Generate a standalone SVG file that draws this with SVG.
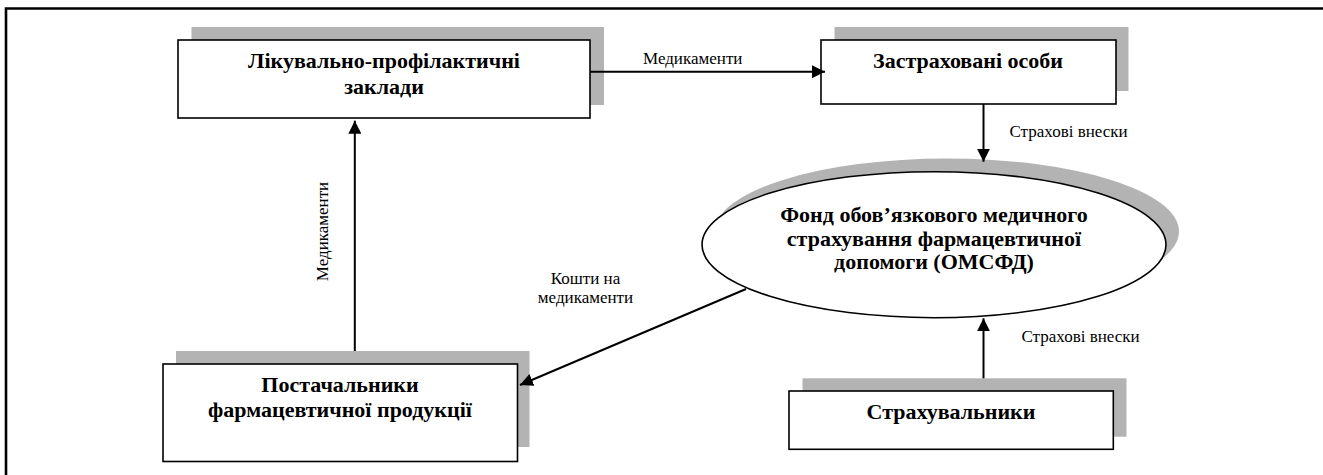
<svg xmlns="http://www.w3.org/2000/svg" width="1323" height="475" viewBox="0 0 1323 475">
  <style>
    .shadow { fill: #b3b3b3; stroke: none; }
    .box { fill: #ffffff; stroke: #000000; stroke-width: 1.6; }
    .title { font-family: "Liberation Serif", "Times New Roman", serif; font-weight: bold; font-size: 22px; fill: #000; text-anchor: middle; }
    .label { font-family: "Liberation Serif", "Times New Roman", serif; font-size: 17px; fill: #000; }
    .conn { stroke: #000; stroke-width: 2; fill: none; marker-end: url(#arrow); }
  </style>
  <defs>
    <marker id="arrow" markerUnits="userSpaceOnUse" markerWidth="14" markerHeight="13" refX="13" refY="6.5" orient="auto">
      <path d="M0,0 L13,6.5 L0,13 Z" fill="#000"/>
    </marker>
  </defs>
  <rect width="1323" height="475" fill="#ffffff"/>
  <path d="M6,475 V8.5 H1323" fill="none" stroke="#000" stroke-width="2.6"/>

  <g id="node-lpz">
    <rect class="shadow" x="191.5" y="27" width="412.5" height="78"/>
    <rect class="box" x="178" y="40" width="412" height="78"/>
    <text class="title" x="384" y="68">Лікувально-профілактичні</text>
    <text class="title" x="384" y="94">заклади</text>
  </g>

  <g id="node-insured">
    <rect class="shadow" x="834.5" y="27" width="294" height="64"/>
    <rect class="box" x="821" y="40" width="295" height="64"/>
    <text class="title" x="968" y="68">Застраховані особи</text>
  </g>

  <g id="node-fund">
    <ellipse class="shadow" cx="947" cy="231.5" rx="232" ry="73"/>
    <ellipse class="box" cx="934" cy="244.7" rx="232" ry="73"/>
    <text class="title" x="934" y="222">Фонд обов’язкового медичного</text>
    <text class="title" x="934" y="245.5">страхування фармацевтичної</text>
    <text class="title" x="934" y="269">допомоги (ОМСФД)</text>
  </g>

  <g id="node-suppliers">
    <rect class="shadow" x="176" y="351" width="353.5" height="96"/>
    <rect class="box" x="163" y="364" width="354.5" height="97.5"/>
    <text class="title" x="340" y="391.5">Постачальники</text>
    <text class="title" x="340" y="416.5">фармацевтичної продукції</text>
  </g>

  <g id="node-insurers">
    <rect class="shadow" x="802.5" y="378.3" width="324" height="58.4"/>
    <rect class="box" x="789" y="391" width="324.3" height="58.3"/>
    <text class="title" x="951" y="419.3">Страхувальники</text>
  </g>

  <g id="connectors">
    <line class="conn" x1="590" y1="71.7" x2="825" y2="71.7"/>
    <line class="conn" x1="983.5" y1="104" x2="983.5" y2="161.7"/>
    <line class="conn" x1="983.5" y1="378.3" x2="983.5" y2="318.3"/>
    <line class="conn" x1="354.8" y1="351" x2="354.8" y2="120.7"/>
    <line class="conn" x1="746" y1="289" x2="520" y2="385"/>
    <text class="label" x="643" y="64">Медикаменти</text>
    <text class="label" x="1009.5" y="136.7">Страхові внески</text>
    <text class="label" x="1021.5" y="342.3">Страхові внески</text>
    <text class="label" x="585.5" y="284" text-anchor="middle">Кошти на</text>
    <text class="label" x="585.5" y="303" text-anchor="middle">медикаменти</text>
    <text class="label" transform="translate(327.5,231.5) rotate(-90)" text-anchor="middle">Медикаменти</text>
  </g>
</svg>
